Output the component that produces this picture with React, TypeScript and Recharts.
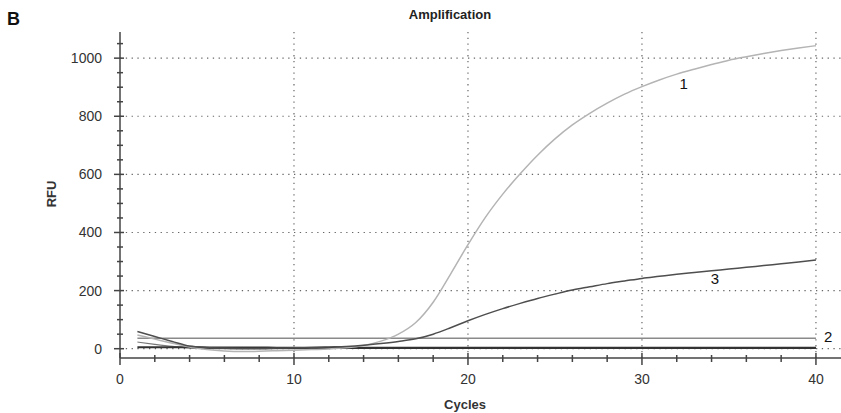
import React from 'react';
import { LineChart, Line, XAxis, YAxis, ReferenceLine, ReferenceDot } from 'recharts';

const cycles = [1, 2, 3, 4, 5, 6, 7, 8, 9, 10, 11, 12, 13, 14, 15, 16, 17, 18, 19, 20, 21, 22, 23, 24, 25, 26, 27, 28, 29, 30, 31, 32, 33, 34, 35, 36, 37, 38, 39, 40];

const curve1 = [47, 33, 19, 6, -3, -8, -10, -9, -7, -5, -3, -1, 3, 11, 26, 50, 90, 160, 257, 358, 452, 532, 602, 666, 722, 770, 810, 845, 876, 902, 925, 945, 962, 978, 993, 1005, 1016, 1026, 1035, 1043];
const curve2 = [36, 36, 36, 36, 36, 36, 36, 36, 36, 36, 36, 36, 36, 36, 36, 36, 36, 36, 36, 36, 36, 36, 36, 36, 36, 36, 36, 36, 36, 36, 36, 36, 36, 36, 36, 36, 36, 36, 36, 36];
const curve3 = [59, 42, 25, 9, 4, 2, 1, 1, 2, 3, 4, 6, 8, 12, 18, 25, 34, 50, 72, 96, 118, 138, 156, 173, 188, 202, 213, 224, 233, 242, 249, 256, 262, 268, 274, 280, 286, 292, 298, 305];
const curve4 = [23, 15, 8, 3, 1, 0, -1, -1, 0, 0, 1, 1, 2, 2, 2, 3, 3, 3, 3, 3, 3, 3, 3, 3, 3, 3, 3, 3, 3, 3, 3, 3, 3, 3, 3, 3, 3, 3, 3, 3];
const curve5 = [5, 5, 5, 5, 4, 4, 4, 4, 3, 3, 3, 3, 3, 3, 3, 3, 3, 3, 3, 3, 3, 3, 3, 3, 3, 3, 3, 3, 3, 3, 3, 3, 3, 3, 3, 3, 3, 3, 3, 3];

const xTicks = [0, 2, 4, 6, 8, 10, 12, 14, 16, 18, 20, 22, 24, 26, 28, 30, 32, 34, 36, 38, 40];
const xMajor = [10, 20, 30, 40];
const yTicks = [0, 50, 100, 150, 200, 250, 300, 350, 400, 450, 500, 550, 600, 650, 700, 750, 800, 850, 900, 950, 1000, 1050];
const yMajor = [0, 200, 400, 600, 800, 1000];

const curveNames = ['1', '2', '3'];
const curveLabelX = [32.4, 40.7, 34.2];
const curveLabelY = [911, 40, 240];

const data = cycles.map((c, i) => ({
  cycle: c,
  s1: curve1[i],
  s2: curve2[i],
  s3: curve3[i],
  s4: curve4[i],
  s5: curve5[i],
}));

const FONT = '"Liberation Sans", Arial, sans-serif';
const AXIS = '#444';

function BottomTick(props: any) {
  const { x, y, payload } = props;
  const v = payload.value;
  const major = v % 10 === 0;
  return (
    <g>
      <line x1={x} x2={x} y1={y - (major ? 5 : 3)} y2={y + (major ? 7 : 4)} stroke={AXIS} strokeWidth={1.5} />
      {major && (
        <text x={x} y={y + 26} textAnchor="middle" fontSize={14} fill="#333" fontFamily={FONT}>
          {v}
        </text>
      )}
    </g>
  );
}

function TopTick(props: any) {
  const { x, y, payload } = props;
  const major = payload.value % 10 === 0;
  return <line x1={x} x2={x} y1={y} y2={y + (major ? 5 : 3)} stroke={AXIS} strokeWidth={1.5} />;
}

function LeftTick(props: any) {
  const { x, y, payload } = props;
  const v = payload.value;
  const major = v % 200 === 0;
  return (
    <g>
      <line x1={x - (major ? 6 : 3)} x2={x + (major ? 4 : 3)} y1={y} y2={y} stroke={AXIS} strokeWidth={1.5} />
      {major && (
        <text x={x - 18} y={y + 5} textAnchor="end" fontSize={14} fill="#333" fontFamily={FONT}>
          {v}
        </text>
      )}
    </g>
  );
}

export default function App() {
  return (
    <div style={{ position: 'absolute', left: 0, top: 0, width: 841, height: 413, background: '#fff', overflow: 'hidden', fontFamily: FONT }}>
      <LineChart width={841} height={413} data={data} margin={{ top: 32, right: 0, bottom: 25, left: 60 }}>
        <XAxis
          xAxisId="top"
          orientation="top"
          type="number"
          dataKey="cycle"
          domain={[0, 41.44]}
          allowDataOverflow
          ticks={xTicks}
          height={0}
          tickSize={0}
          tickMargin={0}
          tickLine={false}
          tick={<TopTick />}
          axisLine={{ stroke: AXIS, strokeWidth: 1.5 }}
        />
        <XAxis
          type="number"
          dataKey="cycle"
          domain={[0, 41.44]}
          allowDataOverflow
          ticks={xTicks}
          height={30}
          tickSize={0}
          tickMargin={0}
          tickLine={false}
          tick={<BottomTick />}
          axisLine={{ stroke: AXIS, strokeWidth: 1.5 }}
          interval={0}
        />
        <YAxis
          type="number"
          domain={[-32, 1090]}
          allowDataOverflow
          ticks={yTicks}
          width={60}
          tickSize={0}
          tickMargin={0}
          tickLine={false}
          tick={<LeftTick />}
          axisLine={{ stroke: AXIS, strokeWidth: 1.5 }}
          interval={0}
        />
        {xMajor.map((v) => (
          <ReferenceLine key={'gx' + v} x={v} stroke="#666" strokeWidth={1.2} strokeDasharray="1.3 4.5" />
        ))}
        {yMajor.map((v) => (
          <ReferenceLine key={'gy' + v} y={v} stroke="#666" strokeWidth={1.2} strokeDasharray="1.3 4.5" />
        ))}
        <Line type="linear" dataKey="s2" stroke="#8a8a8a" strokeWidth={1.5} dot={false} isAnimationActive={false} />
        <Line type="monotone" dataKey="s4" stroke="#777" strokeWidth={1.2} dot={false} isAnimationActive={false} />
        <Line type="monotone" dataKey="s5" stroke="#333" strokeWidth={2.2} dot={false} isAnimationActive={false} />
        <Line type="monotone" dataKey="s1" stroke="#b4b4b4" strokeWidth={1.5} dot={false} isAnimationActive={false} />
        <Line type="monotone" dataKey="s3" stroke="#4e4e4e" strokeWidth={1.5} dot={false} isAnimationActive={false} />
        {curveNames.map((n, i) => (
          <ReferenceDot
            key={'lbl' + n}
            x={curveLabelX[i]}
            y={curveLabelY[i]}
            r={0}
            stroke="none"
            fill="none"
            ifOverflow="visible"
            label={{ value: n, position: 'center', fontSize: 15, fill: '#111', fontFamily: FONT }}
          />
        ))}
      </LineChart>
      <div style={{ position: 'absolute', left: 7, top: 9, fontSize: 18, fontWeight: 'bold', lineHeight: '20px', color: '#111' }}>B</div>
      <div style={{ position: 'absolute', left: 450, top: 7, transform: 'translateX(-50%)', fontSize: 13, fontWeight: 'bold', lineHeight: '16px', color: '#222', whiteSpace: 'nowrap' }}>Amplification</div>
      <div style={{ position: 'absolute', left: 465, top: 397, transform: 'translateX(-50%)', fontSize: 13, fontWeight: 'bold', lineHeight: '16px', color: '#333', whiteSpace: 'nowrap' }}>Cycles</div>
      <div style={{ position: 'absolute', left: 52, top: 194, transform: 'translate(-50%, -50%) rotate(-90deg)', fontSize: 13, fontWeight: 'bold', lineHeight: '16px', color: '#333', whiteSpace: 'nowrap' }}>RFU</div>
    </div>
  );
}
